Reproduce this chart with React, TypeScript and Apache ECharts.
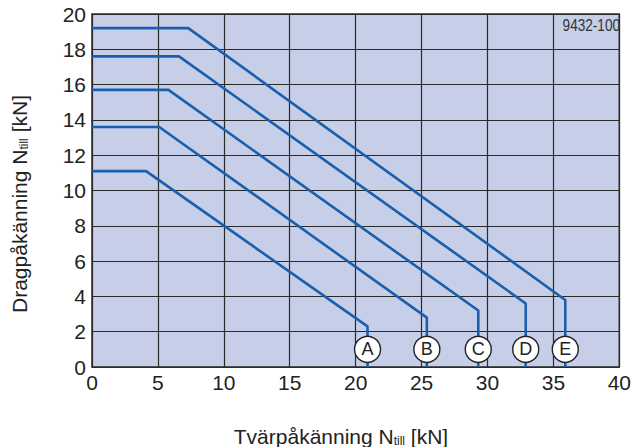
import React, { useEffect, useRef } from "react";
import * as echarts from "echarts";

// Curve data (kN)
const curveLabels = ["A", "B", "C", "D", "E"];
const plateauLevel = [11.1, 13.6, 15.7, 17.6, 19.2];
const kneeX = [4.1, 5.1, 5.8, 6.6, 7.3];
const endX = [20.9, 25.4, 29.3, 32.9, 35.9];
const endY = [2.3, 2.8, 3.2, 3.6, 3.8];
const markerY = 1.0;

const xTicks = [0, 5, 10, 15, 20, 25, 30, 35, 40];
const yTicks = [0, 2, 4, 6, 8, 10, 12, 14, 16, 18, 20];

const LINE = "#1a5fae";
const GRID = "#2a2a2a";
const FONT = "'Liberation Sans', Arial, sans-serif";

export default function App() {
  const ref = useRef<HTMLDivElement>(null);
  useEffect(() => {
    if (!ref.current) return;
    const chart = echarts.init(ref.current, undefined, { renderer: "svg" });

    const lineSeries = curveLabels.map((name, i) => ({
      name,
      type: "line",
      data: [
        [0, plateauLevel[i]],
        [kneeX[i], plateauLevel[i]],
        [endX[i], endY[i]],
        [endX[i], 0],
      ],
      symbol: "none",
      lineStyle: { color: LINE, width: 2.6 },
      z: 3,
    }));

    const markerSeries = {
      type: "scatter",
      data: curveLabels.map((l, i) => ({ value: [endX[i], markerY], name: l })),
      symbol: "circle",
      symbolSize: 26,
      itemStyle: { color: "#ffffff", borderColor: "#222", borderWidth: 1.4, opacity: 1 },
      label: {
        show: true,
        position: "inside",
        formatter: (p: any) => p.name,
        fontFamily: FONT,
        fontSize: 18,
        color: "#222",
      },
      z: 5,
    };

    chart.setOption({
      animation: false,
      grid: {
        left: 92,
        top: 14,
        right: 12,
        bottom: 80,
        show: true,
        backgroundColor: "#c6cee8",
        borderColor: GRID,
        borderWidth: 1.5,
      },
      xAxis: {
        type: "value",
        min: xTicks[0],
        max: xTicks[xTicks.length - 1],
        interval: 5,
        axisLine: { show: false },
        axisTick: { show: false },
        splitLine: { show: true, lineStyle: { color: GRID, width: 1.2 } },
        axisLabel: {
          margin: 5,
          fontFamily: FONT,
          fontSize: 21,
          color: "#222",
        },
      },
      yAxis: {
        type: "value",
        min: yTicks[0],
        max: yTicks[yTicks.length - 1],
        interval: 2,
        axisLine: { show: false },
        axisTick: { show: false },
        splitLine: { show: true, lineStyle: { color: GRID, width: 1.2 } },
        axisLabel: {
          margin: 6,
          fontFamily: FONT,
          fontSize: 21,
          color: "#222",
          padding: [10, 0, 0, 0],
        },
      },
      graphic: [
        {
          type: "text",
          x: 620,
          y: 26,
          scaleX: 0.85,
          style: {
            text: "9432-100",
            x: 0,
            y: 0,
            align: "right",
            verticalAlign: "middle",
            fontFamily: FONT,
            fontSize: 16,
            fill: "#333",
          },
          z: 10,
        },
        {
          type: "text",
          x: 341,
          y: 436,
          style: {
            text: "Tvärpåkänning N{sub|till} [kN]",
            align: "center",
            verticalAlign: "middle",
            fontFamily: FONT,
            fontSize: 21,
            fill: "#222",
            rich: {
              sub: { fontFamily: FONT, fontSize: 12, fill: "#222", padding: [10, 0, 0, 0] },
            },
          },
        },
        {
          type: "text",
          x: 19,
          y: 204,
          rotation: Math.PI / 2,
          style: {
            text: "Dragpåkänning N{sub|till} [kN]",
            align: "center",
            verticalAlign: "middle",
            fontFamily: FONT,
            fontSize: 21,
            fill: "#222",
            rich: {
              sub: { fontFamily: FONT, fontSize: 12, fill: "#222", padding: [10, 0, 0, 0] },
            },
          },
        },
      ],
      series: [...lineSeries, markerSeries],
    });

    return () => chart.dispose();
  }, []);

  return (
    <div
      ref={ref}
      style={{ position: "fixed", left: 0, top: 0, width: 634, height: 447, background: "#fff" }}
    />
  );
}
